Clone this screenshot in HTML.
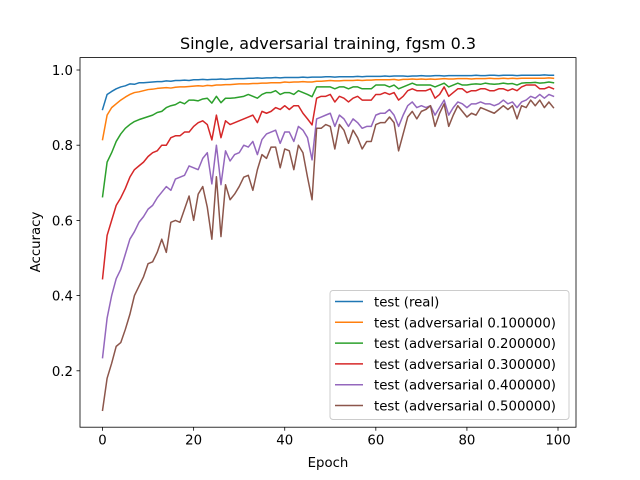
<!DOCTYPE html>
<html><head><meta charset="utf-8"><style>
body{margin:0;background:#fff;}
svg{display:block;font-family:"DejaVu Sans","Liberation Sans",sans-serif;}
</style></head><body>
<svg id="chart" width="640" height="480" viewBox="0 0 640 480" xmlns="http://www.w3.org/2000/svg">
<rect width="640" height="480" fill="#fff"/>
<text x="328" y="49" font-size="16" text-anchor="middle">Single, adversarial training, fgsm 0.3</text>
<g id="plot"></g>
<rect x="80" y="57.6" width="496" height="369.6" fill="none" stroke="#000" stroke-width="0.8"/>
<text x="328" y="467" font-size="13.3" text-anchor="middle">Epoch</text>
<text x="0" y="0" font-size="13.3" text-anchor="middle" transform="translate(40,242) rotate(-90)">Accuracy</text>
<g id="axes"></g>
<g id="legend"></g>
</svg>
<script>
const xTicks=[0,20,40,60,80,100];
const yTicks=[0.2,0.4,0.6,0.8,1.0];
const seriesNames=["test (real)","test (adversarial 0.100000)","test (adversarial 0.200000)","test (adversarial 0.300000)","test (adversarial 0.400000)","test (adversarial 0.500000)"];
const colors=["#1f77b4","#ff7f0e","#2ca02c","#d62728","#9467bd","#8c564b"];
const real=[0.895,0.935,0.943,0.95,0.955,0.958,0.963,0.962,0.966,0.966,0.967,0.968,0.969,0.969,0.971,0.97,0.972,0.972,0.973,0.972,0.974,0.974,0.975,0.974,0.975,0.975,0.976,0.975,0.976,0.977,0.977,0.977,0.978,0.978,0.979,0.978,0.979,0.979,0.98,0.979,0.98,0.98,0.98,0.98,0.981,0.98,0.981,0.981,0.981,0.982,0.982,0.981,0.982,0.982,0.982,0.982,0.983,0.982,0.983,0.983,0.983,0.983,0.984,0.983,0.984,0.984,0.984,0.983,0.984,0.984,0.985,0.984,0.984,0.985,0.985,0.984,0.985,0.985,0.985,0.985,0.985,0.985,0.986,0.985,0.985,0.986,0.986,0.985,0.986,0.986,0.986,0.985,0.986,0.986,0.986,0.986,0.986,0.987,0.986,0.986];
const adv1=[0.815,0.88,0.9,0.91,0.92,0.928,0.935,0.94,0.942,0.945,0.948,0.949,0.951,0.952,0.953,0.952,0.954,0.955,0.955,0.956,0.957,0.958,0.957,0.959,0.958,0.96,0.96,0.961,0.961,0.962,0.963,0.963,0.963,0.964,0.964,0.965,0.965,0.966,0.966,0.966,0.968,0.967,0.968,0.968,0.969,0.968,0.968,0.97,0.97,0.971,0.972,0.971,0.971,0.972,0.972,0.972,0.973,0.972,0.973,0.973,0.974,0.974,0.974,0.974,0.975,0.973,0.975,0.975,0.976,0.975,0.976,0.975,0.976,0.975,0.976,0.977,0.976,0.976,0.977,0.977,0.977,0.976,0.977,0.977,0.977,0.978,0.977,0.977,0.978,0.977,0.978,0.977,0.978,0.978,0.978,0.978,0.978,0.978,0.979,0.978];
const adv2=[0.663,0.755,0.78,0.81,0.83,0.845,0.855,0.863,0.868,0.872,0.876,0.88,0.887,0.89,0.9,0.905,0.908,0.915,0.91,0.92,0.92,0.918,0.923,0.925,0.912,0.93,0.913,0.925,0.925,0.926,0.928,0.93,0.935,0.93,0.925,0.935,0.94,0.94,0.945,0.935,0.94,0.94,0.935,0.945,0.94,0.935,0.929,0.955,0.955,0.955,0.955,0.95,0.955,0.955,0.95,0.955,0.955,0.95,0.95,0.95,0.96,0.96,0.96,0.955,0.96,0.95,0.955,0.96,0.965,0.96,0.96,0.96,0.96,0.955,0.96,0.965,0.955,0.96,0.965,0.96,0.96,0.962,0.963,0.962,0.965,0.963,0.962,0.963,0.965,0.963,0.964,0.96,0.965,0.966,0.966,0.967,0.965,0.966,0.968,0.966];
const adv3=[0.445,0.56,0.6,0.64,0.66,0.685,0.715,0.735,0.745,0.755,0.77,0.78,0.785,0.8,0.8,0.82,0.825,0.825,0.835,0.835,0.85,0.86,0.865,0.855,0.814,0.88,0.82,0.865,0.855,0.86,0.865,0.87,0.875,0.88,0.86,0.89,0.885,0.89,0.9,0.895,0.905,0.895,0.905,0.905,0.885,0.87,0.854,0.925,0.93,0.93,0.935,0.915,0.93,0.925,0.915,0.925,0.93,0.92,0.92,0.92,0.935,0.935,0.94,0.935,0.94,0.92,0.93,0.945,0.95,0.945,0.945,0.945,0.95,0.925,0.935,0.955,0.93,0.94,0.95,0.95,0.94,0.945,0.945,0.95,0.95,0.945,0.945,0.95,0.95,0.945,0.95,0.945,0.955,0.96,0.96,0.96,0.95,0.95,0.955,0.95];
const adv4=[0.235,0.34,0.4,0.445,0.47,0.51,0.55,0.57,0.595,0.61,0.63,0.64,0.66,0.675,0.69,0.68,0.71,0.715,0.72,0.745,0.74,0.735,0.765,0.78,0.697,0.8,0.695,0.785,0.758,0.775,0.78,0.8,0.795,0.81,0.775,0.815,0.83,0.835,0.84,0.805,0.835,0.835,0.81,0.85,0.84,0.82,0.761,0.87,0.875,0.88,0.885,0.85,0.88,0.87,0.85,0.87,0.86,0.845,0.85,0.85,0.88,0.885,0.885,0.895,0.88,0.85,0.88,0.905,0.915,0.9,0.905,0.9,0.905,0.88,0.9,0.92,0.88,0.9,0.915,0.91,0.9,0.91,0.91,0.915,0.91,0.91,0.905,0.91,0.92,0.91,0.915,0.9,0.915,0.92,0.93,0.925,0.935,0.925,0.935,0.93];
const adv5=[0.095,0.18,0.22,0.265,0.275,0.31,0.35,0.4,0.425,0.45,0.485,0.49,0.515,0.55,0.515,0.595,0.6,0.595,0.63,0.665,0.6,0.67,0.69,0.635,0.55,0.716,0.557,0.695,0.655,0.67,0.69,0.715,0.72,0.68,0.735,0.775,0.765,0.795,0.795,0.74,0.79,0.785,0.735,0.8,0.78,0.715,0.655,0.845,0.845,0.855,0.85,0.79,0.855,0.84,0.805,0.84,0.82,0.79,0.81,0.81,0.855,0.86,0.86,0.875,0.86,0.785,0.83,0.875,0.89,0.87,0.89,0.895,0.905,0.85,0.885,0.91,0.85,0.88,0.905,0.89,0.875,0.885,0.88,0.9,0.895,0.89,0.885,0.895,0.905,0.895,0.905,0.87,0.905,0.9,0.92,0.905,0.92,0.9,0.915,0.9];
const allSeries=[real,adv1,adv2,adv3,adv4,adv5];

const NS="http://www.w3.org/2000/svg";
const L=80,R=576,T=57.6,B=427.2;
const xMin=-4.95,xMax=103.95,yMin=0.05,yMax=1.033;
function xs(v){return L+(v-xMin)/(xMax-xMin)*(R-L);}
function ys(v){return B-(v-yMin)/(yMax-yMin)*(B-T);}
function mk(tag,attrs){const e=document.createElementNS(NS,tag);for(const k in attrs)e.setAttribute(k,attrs[k]);return e;}

const plot=document.getElementById('plot');
allSeries.forEach((s,i)=>{
  const pts=s.map((v,j)=>xs(j).toFixed(2)+','+ys(v).toFixed(2)).join(' ');
  const pl=mk('polyline',{points:pts,fill:'none',stroke:colors[i],'stroke-width':1.5,'stroke-linejoin':'round','stroke-linecap':'square'});
  
  
  plot.appendChild(pl);
});

const axes=document.getElementById('axes');
xTicks.forEach(t=>{
  const x=xs(t);
  const ln=mk('line',{x1:x,x2:x,y1:B,y2:B+3.5,stroke:'#000','stroke-width':0.8});
  
  
  axes.appendChild(ln);
  const tx=mk('text',{x:x,y:B+17.5,'font-size':13.3,'text-anchor':'middle'});
  tx.textContent=String(t);
  
  
  axes.appendChild(tx);
});
yTicks.forEach(t=>{
  const y=ys(t);
  const ln=mk('line',{x1:L-3.5,x2:L,y1:y,y2:y,stroke:'#000','stroke-width':0.8});
  
  
  axes.appendChild(ln);
  const tx=mk('text',{x:L-7,y:y+5,'font-size':13.3,'text-anchor':'end'});
  tx.textContent=t.toFixed(1);
  
  
  axes.appendChild(tx);
});

const lg=document.getElementById('legend');
const box=mk('rect',{x:330,y:290.5,width:239,height:129,rx:3,fill:'#fff','fill-opacity':0.8,stroke:'#ccc','stroke-width':1});


lg.appendChild(box);
seriesNames.forEach((n,i)=>{
  const y=301.5+i*20.8;
  const ln=mk('line',{x1:335,x2:363,y1:y,y2:y,stroke:colors[i],'stroke-width':1.5});
  
  
  lg.appendChild(ln);
  const tx=mk('text',{x:374,y:y+5,'font-size':13.3});
  tx.textContent=n;
  
  
  lg.appendChild(tx);
});
</script>
</body></html>
